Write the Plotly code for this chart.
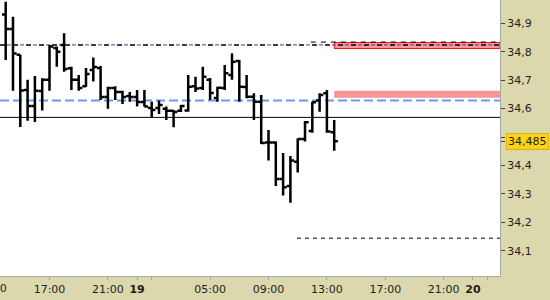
import plotly.graph_objects as go

# ---- data ----
bar_index = list(range(46))
opens = [34.931, 34.880, 34.789, 34.665, 34.609, 34.662, 34.701, 34.813, 34.824, 34.742,
         34.701, 34.679, 34.736, 34.743, 34.641, 34.672, 34.658, 34.644, 34.641, 34.623,
         34.602, 34.602, 34.599, 34.592, 34.592, 34.593, 34.679, 34.672, 34.701, 34.637,
         34.672, 34.718, 34.767, 34.676, 34.642, 34.624, 34.481, 34.481, 34.352, 34.328,
         34.413, 34.493, 34.521, 34.628, 34.654, 34.517]
highs = [34.976, 34.923, 34.789, 34.701, 34.715, 34.707, 34.824, 34.818, 34.865, 34.747,
         34.718, 34.743, 34.780, 34.750, 34.677, 34.679, 34.663, 34.658, 34.665, 34.665,
         34.624, 34.628, 34.607, 34.595, 34.613, 34.718, 34.712, 34.747, 34.708, 34.677,
         34.753, 34.795, 34.771, 34.718, 34.654, 34.648, 34.525, 34.484, 34.444, 34.433,
         34.495, 34.556, 34.624, 34.654, 34.665, 34.560]
lows = [34.771, 34.663, 34.535, 34.557, 34.553, 34.593, 34.663, 34.747, 34.730, 34.665,
        34.663, 34.677, 34.695, 34.630, 34.599, 34.630, 34.616, 34.624, 34.607, 34.607,
        34.569, 34.581, 34.560, 34.534, 34.588, 34.589, 34.658, 34.665, 34.630, 34.624,
        34.665, 34.701, 34.624, 34.636, 34.560, 34.475, 34.417, 34.328, 34.294, 34.269,
        34.375, 34.484, 34.515, 34.589, 34.515, 34.452]
closes = [34.880, 34.794, 34.664, 34.609, 34.663, 34.701, 34.818, 34.800, 34.739, 34.701,
          34.672, 34.722, 34.746, 34.641, 34.672, 34.658, 34.641, 34.641, 34.623, 34.607,
          34.595, 34.613, 34.592, 34.588, 34.609, 34.677, 34.671, 34.712, 34.655, 34.673,
          34.724, 34.765, 34.677, 34.642, 34.624, 34.479, 34.481, 34.352, 34.323, 34.417,
          34.493, 34.552, 34.622, 34.648, 34.519, 34.485]

x_tick_pos = [6, 14, 18, 20, 28, 36, 44, 52, 60, 64, 66]
x_tick_text = ["17:00", "21:00", "<b>19</b>", "", "05:00", "09:00", "13:00",
               "17:00", "21:00", "<b>20</b>", ""]
left_cut_label = "13:00"
left_cut_pos = -2

y_tick_vals = [34.1, 34.2, 34.3, 34.4, 34.5, 34.6, 34.7, 34.8, 34.9]
y_tick_text = ["34,1", "34,2", "34,3", "34,4", "", "34,6", "34,7", "34,8", "34,9"]
last_price = 34.485
last_price_text = "34,485"

x_range = [-0.78, 67.71]
y_range = [34.011, 34.982]

black_level = 34.569
blue_level = 34.628
top_dash_level = 34.824
upper_dash_level = 34.834
upper_dash_start = 41.8
bottom_dash_level = 34.144
bottom_dash_start = 39.9
red_zone = (34.8114, 34.8325)
pink_zone = (34.638, 34.663)
zone_start = 45

PANEL = "#DAD8AC"
TXT = "#1e1e1e"

fig = go.Figure()
fig.add_trace(go.Ohlc(
    x=bar_index, open=opens, high=highs, low=lows, close=closes,
    increasing=dict(line=dict(color="black", width=2.5)),
    decreasing=dict(line=dict(color="black", width=2.5)),
    tickwidth=0.5, hoverinfo="skip", showlegend=False,
))

shapes = []
# zones
shapes.append(dict(type="rect", xref="x", yref="y", x0=zone_start, x1=x_range[1],
                   y0=pink_zone[0], y1=pink_zone[1], fillcolor="#F89494",
                   line=dict(width=0), layer="below"))
shapes.append(dict(type="rect", xref="x", yref="y", x0=zone_start, x1=x_range[1],
                   y0=red_zone[0], y1=red_zone[1], fillcolor="#F99A9A",
                   line=dict(color="#FF1010", width=1), layer="below"))
# lines
shapes.append(dict(type="line", xref="x", yref="y", x0=x_range[0], x1=x_range[1],
                   y0=black_level, y1=black_level, line=dict(color="black", width=1),
                   layer="below"))
shapes.append(dict(type="line", xref="x", yref="y", x0=x_range[0], x1=x_range[1],
                   y0=blue_level, y1=blue_level,
                   line=dict(color="#6A9BF0", width=2, dash="9px,4px"), layer="below"))
shapes.append(dict(type="line", xref="x", yref="y", x0=x_range[0], x1=x_range[1],
                   y0=top_dash_level, y1=top_dash_level,
                   line=dict(color="#7B1FA8", width=1, dash="0px,7px,4px,2px"),
                   layer="below"))
shapes.append(dict(type="line", xref="x", yref="y", x0=x_range[0], x1=x_range[1],
                   y0=top_dash_level, y1=top_dash_level,
                   line=dict(color="black", width=1.5, dash="5px,8px"), layer="below"))
shapes.append(dict(type="line", xref="x", yref="y", x0=upper_dash_start, x1=x_range[1],
                   y0=upper_dash_level, y1=upper_dash_level,
                   line=dict(color="black", width=1, dash="5px,5px"), layer="below"))
shapes.append(dict(type="line", xref="x", yref="y", x0=bottom_dash_start, x1=x_range[1],
                   y0=bottom_dash_level, y1=bottom_dash_level,
                   line=dict(color="black", width=1, dash="4px,4px"), layer="below"))

span = x_range[1] - x_range[0]
annotations = [
    dict(xref="paper", yref="paper", x=(left_cut_pos - x_range[0]) / span, y=0,
         yshift=-12, text=left_cut_label, showarrow=False, xanchor="center",
         yanchor="middle", font=dict(family="DejaVu Sans", size=11, color=TXT)),
    dict(xref="paper", yref="y", x=1, xanchor="left", xshift=6, y=last_price,
         yanchor="middle", text=last_price_text, showarrow=False,
         bgcolor="#FFD21A", bordercolor="#E3B400", borderwidth=1, borderpad=1,
         font=dict(family="DejaVu Sans", size=11, color=TXT)),
]

fig.update_layout(
    width=550, height=300,
    margin=dict(l=0, r=50, t=0, b=24),
    paper_bgcolor=PANEL, plot_bgcolor="white",
    separators=",.",
    font=dict(family="DejaVu Sans", size=11, color=TXT),
    showlegend=False, hovermode=False,
    shapes=shapes, annotations=annotations,
    xaxis=dict(range=x_range, tickmode="array", tickvals=x_tick_pos,
               ticktext=x_tick_text, ticks="outside", ticklen=3, tickcolor="#A8A8A8",
               showgrid=False, zeroline=False, showline=True, linecolor="#A8A8A8",
               linewidth=1, rangeslider=dict(visible=False), fixedrange=True),
    yaxis=dict(range=y_range, side="right", tickmode="array",
               tickvals=y_tick_vals + [last_price], ticktext=y_tick_text + [""],
               ticks="outside", ticklen=4, tickcolor="#444", showgrid=False,
               zeroline=False, showline=True, linecolor="#A8A8A8", linewidth=1,
               fixedrange=True),
)

fig.write_html("out.html", config=dict(displayModeBar=False))
